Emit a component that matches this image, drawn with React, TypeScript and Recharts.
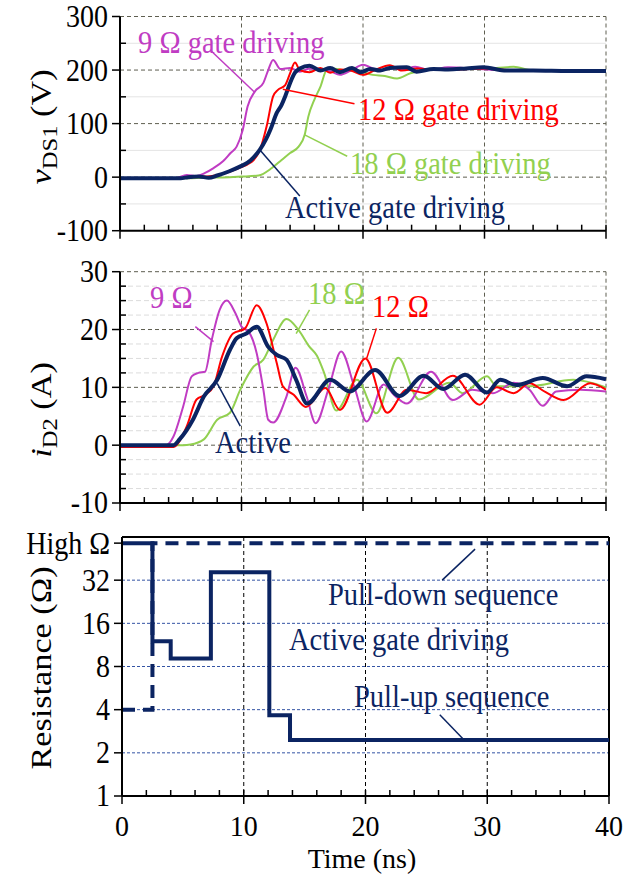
import React from 'react'
import { LineChart, Line, XAxis, YAxis, CartesianGrid, ReferenceLine } from 'recharts'

const FONT = '"Liberation Serif", "Times New Roman", serif'
const NAVY = '#0b2462'
const MAGENTA = '#c03cc3'
const RED = '#ff0000'
const GREEN = '#92d050'
const GRID = '#5e5e50'

// shared time axis (ns)
const TIME_TICKS = [0, 2, 4, 6, 8, 10, 12, 14, 16, 18, 20, 22, 24, 26, 28, 30, 32, 34, 36, 38, 40]
const TIME_GRID = [10, 20, 30, 40]

// panel 1: vDS1 (V)
const V_TICKS = [-100, -50, 0, 50, 100, 150, 200, 250, 300]
const V_GRID = [0, 100, 200, 300]
const V_MINOR = [-50, 50, 150, 250]

const T_V9 = [0, 4.5, 5.5, 6.3, 7.0, 7.7, 8.5, 9.1, 9.6, 10.1, 10.5, 11.1, 11.8, 12.2, 12.6, 13.2, 14.0, 14.8, 15.6, 16.5, 17.3, 18.1, 19.0, 20.0, 20.8, 21.6, 22.4, 23.3, 24.3, 25.5, 27.0, 29.0, 31.0, 33.0, 36.0, 40.0]
const V9 = [-2, -2, 4, 2, 8, 17, 30, 45, 57, 88, 132, 160, 176, 200, 219, 202, 204, 197, 203, 201, 198, 191, 199, 210, 203, 200, 204, 201, 206, 200, 205, 203, 200, 199, 199, 198]

const T_V12 = [0, 5.0, 6.0, 7.0, 8.0, 9.0, 10.0, 10.5, 11.0, 11.5, 12.07, 12.6, 13.0, 13.6, 14.0, 14.4, 14.8, 15.6, 16.5, 17.3, 18.1, 19.0, 20.0, 21.0, 22.2, 23.2, 24.5, 26.0, 28.0, 30.0, 32.0, 35.0, 40.0]
const V12 = [-2, -2, 2, 1, 4, 10, 19, 24, 32, 50, 95, 151, 163, 172, 194, 214, 200, 196, 204, 195, 201, 199, 191, 200, 209, 199, 203, 200, 201, 203, 200, 200, 198]

const T_V18 = [0, 5, 7, 9, 10, 11.4, 12.5, 13.3, 14.0, 14.7, 15.2, 15.5, 16.0, 16.5, 17.0, 17.5, 18.3, 19.8, 20.8, 21.8, 22.8, 23.9, 25.2, 27, 29, 31, 32.4, 33.9, 36, 40]
const V18 = [-2, -2, -1, 0, 1, 3, 17, 32, 45, 57, 79, 113, 145, 169, 200, 203, 200, 197, 191, 189, 184, 194, 200, 202, 203, 204, 206, 200, 200, 198]

const T_VA = [0, 5.0, 5.6, 6.5, 7.3, 8.0, 9.0, 10.0, 10.5, 11.0, 11.5, 12.0, 12.4, 12.9, 13.3, 13.6, 14.0, 14.4, 14.8, 15.6, 16.5, 17.3, 18.1, 19.1, 19.8, 20.6, 21.4, 22.2, 23.6, 24.4, 25.8, 27.0, 28.5, 29.9, 31.8, 34, 37, 40]
const VA = [-2, -2, 0, 1, -1, 3, 11, 21, 27, 37, 51, 70, 90, 120, 135, 151, 176, 195, 203, 208, 199, 204, 196, 204, 196, 202, 199, 204, 205, 197, 202, 201, 203, 205, 199, 199, 198, 198]

// panel 2: iD2 (A)
const I_TICKS = [-10, -7.5, -5, -2.5, 0, 2.5, 5, 7.5, 10, 12.5, 15, 17.5, 20, 22.5, 25, 27.5, 30]
const I_GRID = [0, 10, 20, 30]
const I_MINOR = [-7.5, -5, -2.5, 2.5, 5, 7.5, 12.5, 15, 17.5, 22.5, 25, 27.5]

const T_I9 = [0, 3.8, 4.4, 5.2, 5.9, 6.45, 7.0, 7.55, 8.2, 8.8, 9.5, 10.0, 10.6, 11.25, 11.8, 12.2, 12.6, 13.7, 14.45, 15.35, 16.1, 17.2, 18.2, 19.3, 20.3, 21.7, 22.6, 23.6, 25.6, 27.4, 29.0, 30.7, 32.4, 33.7, 34.8, 35.9, 37.9, 40]
const I9 = [0, 0, 1.5, 6.7, 11.9, 12.5, 12.7, 18.2, 23.4, 25, 22.8, 20.5, 19.6, 15.9, 9.6, 4.4, 3.9, 8.4, 13.4, 8.5, 3.8, 10, 16.2, 10, 4.1, 10.5, 8.6, 7.2, 12.7, 7.8, 9.6, 9.0, 10.8, 9.6, 6.8, 9.3, 9.6, 9.3]

const T_I12 = [0, 4.4, 5.5, 6.3, 7.0, 7.7, 8.4, 9.3, 10.3, 11.25, 12.07, 12.9, 13.4, 14.3, 15.3, 16.9, 18.1, 20.2, 22.0, 23.6, 25.2, 27.4, 29.6, 31.0, 32.4, 33.7, 35.0, 36.5, 38.7, 40]
const I12 = [-0.3, -0.3, 3.3, 7.9, 8.7, 10.2, 15.3, 19.3, 20.2, 24.2, 21, 14.2, 10.2, 8.7, 6.6, 9.9, 6.1, 15, 5.6, 9.6, 9.0, 12.0, 7.0, 10.0, 9.0, 10.7, 9.2, 7.8, 10.7, 9.6]

const T_I18 = [0, 5.2, 5.8, 6.9, 8.0, 9.05, 9.9, 11.0, 11.8, 12.6, 13.7, 14.7, 15.6, 16.2, 16.8, 17.8, 19.5, 21.1, 22.9, 24.6, 27.1, 28.2, 30.2, 31.0, 33.7, 37.3, 40]
const I18 = [0, 0, 0.1, 1, 4.4, 5.6, 9.6, 13.6, 14.8, 18.2, 21.8, 19.9, 17, 15.5, 12.5, 6, 11.3, 5.5, 15.1, 7.9, 10.8, 9, 11.9, 10.2, 10.2, 11.3, 10]

const T_IA = [0, 4.4, 4.9, 6.0, 6.9, 8.0, 9.05, 9.6, 10.4, 11.25, 12.2, 12.9, 13.7, 14.5, 15.4, 17.3, 18.9, 21.0, 23.0, 25.0, 26.6, 28.4, 30.2, 31.3, 32.6, 34.8, 36.8, 38.4, 40]
const IA = [0, 0, 1, 4.4, 8.4, 11.3, 16.5, 18.5, 19.3, 20.5, 17, 15.6, 14.8, 11.3, 7.2, 11.3, 9.3, 13, 8.5, 12, 9.7, 12.2, 9.1, 11.3, 10.4, 11.6, 10.2, 11.9, 11.4]

// panel 3: gate resistance (log scale, "High" drawn as ~58 Ω)
const HIGH = 58
const R_TICKS = [1, 2, 4, 8, 16, 32, HIGH]
const R_GRID = [2, 4, 8, 16, 32]
const T_PULL_UP = [0, 2.5, 4.0, 7.3, 12.1, 13.8, 40]
const R_PULL_UP = [HIGH, 12, 9.1, 36.4, 3.65, 2.46, 2.46]
const T_PULL_DOWN = [0, 2.5, 40]
const R_PULL_DOWN = [4, HIGH, HIGH]

const zip = (t: number[], v: number[]) => t.map((x, i) => ({ t: x, v: v[i] }))

const TICK_FONT = 28

const timeTick = (labels: boolean) => (p: any) => {
  const v = p.payload.value
  const major = v % 10 === 0
  return (
    <g>
      <line x1={p.x} x2={p.x} y1={p.y - 6} y2={p.y + (major ? 8 : 0)} stroke="#000" strokeWidth={1.5} />
      {labels && major && (
        <text transform={`translate(${p.x},${p.y + 30}) scale(1,1.08)`} textAnchor="middle" dominantBaseline="central" fontSize={TICK_FONT} fontFamily={FONT} fill="#000">{v}</text>
      )}
    </g>
  )
}

const valueTick = (step: number, fmt?: (v: number) => string) => (p: any) => {
  const v = p.payload.value
  const major = Math.abs(v % step) < 1e-9
  return (
    <g>
      {major
        ? <line x1={p.x - 8} x2={p.x} y1={p.y} y2={p.y} stroke="#000" strokeWidth={1.5} />
        : <line x1={p.x} x2={p.x + 6} y1={p.y} y2={p.y} stroke="#000" strokeWidth={1.5} />}
      {major && (
        <text transform={`translate(${p.x - 12},${p.y}) scale(1,1.1)`} textAnchor="end" dominantBaseline="central" fontSize={TICK_FONT} fontFamily={FONT} fill="#000">{fmt ? fmt(v) : v}</text>
      )}
    </g>
  )
}

function Note({ x, y, color, children }: any) {
  return (
    <div style={{ position: 'absolute', left: x, top: y, transform: 'translateY(-50%) scaleY(1.1)', color, fontSize: 28.5, fontFamily: FONT, lineHeight: 1, whiteSpace: 'nowrap' }}>
      {children}
    </div>
  )
}

function Title({ x, y, children }: any) {
  return (
    <div style={{ position: 'absolute', left: x, top: y, transform: 'translate(-50%, -50%) rotate(-90deg) scaleX(1.18)', fontSize: 29, fontFamily: FONT, lineHeight: 1, whiteSpace: 'nowrap', color: '#000' }}>
      {children}
    </div>
  )
}

const axisLine = { stroke: '#000', strokeWidth: 2 }

export default function App() {
  return (
    <div style={{ position: 'absolute', left: 0, top: 0, width: 640, height: 874, background: '#fff', overflow: 'hidden' }}>
      {/* panel 1 */}
      <div style={{ position: 'absolute', left: 0, top: 0 }}>
        <LineChart width={640} height={250} margin={{ top: 16.5, right: 34, left: 0, bottom: 0 }}>
          <CartesianGrid horizontalValues={V_MINOR} vertical={false} stroke="#e4e4e4" strokeWidth={1} />
          <CartesianGrid horizontalValues={V_GRID} verticalValues={TIME_GRID} stroke={GRID} strokeDasharray="4 3" strokeWidth={1} />
          <XAxis dataKey="t" type="number" domain={[0, 40]} ticks={TIME_TICKS} interval={0} height={19.3} tickSize={0} tickMargin={0} axisLine={axisLine} tick={timeTick(false)} allowDuplicatedCategory={false} />
          <YAxis type="number" domain={[-100, 300]} ticks={V_TICKS} interval={0} width={120} tickSize={0} tickMargin={0} axisLine={axisLine} tick={valueTick(100)} />
          <Line data={zip(T_V18, V18)} dataKey="v" type="monotone" stroke={GREEN} strokeWidth={2} dot={false} activeDot={false} isAnimationActive={false} />
          <Line data={zip(T_V9, V9)} dataKey="v" type="monotone" stroke={MAGENTA} strokeWidth={2} dot={false} activeDot={false} isAnimationActive={false} />
          <Line data={zip(T_V12, V12)} dataKey="v" type="monotone" stroke={RED} strokeWidth={2} dot={false} activeDot={false} isAnimationActive={false} />
          <Line data={zip(T_VA, VA)} dataKey="v" type="monotone" stroke={NAVY} strokeWidth={4} dot={false} activeDot={false} isAnimationActive={false} />
          <ReferenceLine segment={[{ x: 7.4, y: 238 }, { x: 11.1, y: 158 }]} stroke={MAGENTA} strokeWidth={1.5} />
          <ReferenceLine segment={[{ x: 13.4, y: 164 }, { x: 19.3, y: 137 }]} stroke={RED} strokeWidth={1.5} />
          <ReferenceLine segment={[{ x: 15.2, y: 79 }, { x: 18.7, y: 39 }]} stroke={GREEN} strokeWidth={1.5} />
          <ReferenceLine segment={[{ x: 11.5, y: 51 }, { x: 14.8, y: -35 }]} stroke={NAVY} strokeWidth={1.5} />
        </LineChart>
      </div>

      {/* panel 2 */}
      <div style={{ position: 'absolute', left: 0, top: 250 }}>
        <LineChart width={640} height={270} margin={{ top: 21.7, right: 34, left: 0, bottom: 0 }}>
          <CartesianGrid horizontalValues={I_MINOR} vertical={false} stroke="#dcdcdc" strokeDasharray="5 3" strokeWidth={1} />
          <CartesianGrid horizontalValues={I_GRID} verticalValues={TIME_GRID} stroke={GRID} strokeDasharray="4 3" strokeWidth={1} />
          <XAxis dataKey="t" type="number" domain={[0, 40]} ticks={TIME_TICKS} interval={0} height={17} tickSize={0} tickMargin={0} axisLine={axisLine} tick={timeTick(false)} allowDuplicatedCategory={false} />
          <YAxis type="number" domain={[-10, 30]} ticks={I_TICKS} interval={0} width={120} tickSize={0} tickMargin={0} axisLine={axisLine} tick={valueTick(10)} />
          <Line data={zip(T_I18, I18)} dataKey="v" type="monotone" stroke={GREEN} strokeWidth={2} dot={false} activeDot={false} isAnimationActive={false} />
          <Line data={zip(T_I9, I9)} dataKey="v" type="monotone" stroke={MAGENTA} strokeWidth={2} dot={false} activeDot={false} isAnimationActive={false} />
          <Line data={zip(T_I12, I12)} dataKey="v" type="monotone" stroke={RED} strokeWidth={2} dot={false} activeDot={false} isAnimationActive={false} />
          <Line data={zip(T_IA, IA)} dataKey="v" type="monotone" stroke={NAVY} strokeWidth={4} dot={false} activeDot={false} isAnimationActive={false} />
          <ReferenceLine segment={[{ x: 6.2, y: 20.5 }, { x: 7.7, y: 17.9 }]} stroke={MAGENTA} strokeWidth={1.5} />
          <ReferenceLine segment={[{ x: 15.6, y: 23.4 }, { x: 14.5, y: 19.3 }]} stroke={GREEN} strokeWidth={1.5} />
          <ReferenceLine segment={[{ x: 21.1, y: 20.2 }, { x: 20.3, y: 15 }]} stroke={RED} strokeWidth={1.5} />
          <ReferenceLine segment={[{ x: 8.0, y: 10.7 }, { x: 9.9, y: 3.3 }]} stroke={NAVY} strokeWidth={1.5} />
        </LineChart>
      </div>

      {/* panel 3 */}
      <div style={{ position: 'absolute', left: 0, top: 520 }}>
        <LineChart width={640} height={354} margin={{ top: 17, right: 31, left: 0, bottom: 0 }}>
          <CartesianGrid horizontalValues={R_GRID} vertical={false} stroke="#3454a4" strokeDasharray="3 2" strokeWidth={1} />
          <CartesianGrid horizontal={false} verticalValues={[10, 20, 30]} stroke="#000" strokeDasharray="4 3" strokeWidth={1} />
          <XAxis dataKey="t" type="number" domain={[0, 40]} ticks={TIME_TICKS} interval={0} height={78} tickSize={0} tickMargin={0} axisLine={axisLine} tick={timeTick(true)} allowDuplicatedCategory={false} />
          <YAxis type="number" scale="log" domain={[1, 64]} ticks={R_TICKS} interval={0} width={122} tickSize={0} tickMargin={0} axisLine={axisLine} tick={valueTick(1, (v) => (v === HIGH ? 'High Ω' : String(v)))} />
          <ReferenceLine y={64} stroke="#000" strokeWidth={2} />
          <ReferenceLine x={40} stroke="#000" strokeWidth={2} />
          <Line data={zip(T_PULL_DOWN, R_PULL_DOWN)} dataKey="v" type="stepAfter" stroke={NAVY} strokeWidth={4} strokeDasharray="13 8" dot={false} activeDot={false} isAnimationActive={false} />
          <Line data={zip(T_PULL_UP, R_PULL_UP)} dataKey="v" type="stepAfter" stroke={NAVY} strokeWidth={4} dot={false} activeDot={false} isAnimationActive={false} />
          <ReferenceLine segment={[{ x: 29, y: 52.7 }, { x: 26.3, y: 32 }]} stroke={NAVY} strokeWidth={1.5} />
          <ReferenceLine segment={[{ x: 26.1, y: 3.69 }, { x: 28.1, y: 2.46 }]} stroke={NAVY} strokeWidth={1.5} />
        </LineChart>
      </div>

      {/* annotations */}
      <Note x={138} y={43} color={MAGENTA}>9 Ω gate driving</Note>
      <Note x={358} y={110} color={RED}>12 Ω gate driving</Note>
      <Note x={350} y={164} color={GREEN}>18 Ω gate driving</Note>
      <Note x={285} y={208} color={NAVY}>Active gate driving</Note>
      <Note x={150} y={298} color={MAGENTA}>9 Ω</Note>
      <Note x={308} y={294} color={GREEN}>18 Ω</Note>
      <Note x={372} y={307} color={RED}>12 Ω</Note>
      <Note x={215} y={443} color={NAVY}>Active</Note>
      <Note x={328} y={595} color={NAVY}>Pull-down sequence</Note>
      <Note x={289} y={640} color={NAVY}>Active gate driving</Note>
      <Note x={354} y={697} color={NAVY}>Pull-up sequence</Note>

      <Title x={44} y={127}><span style={{ fontStyle: 'italic' }}>v</span><sub style={{ fontSize: '0.72em' }}>DS1</sub> (V)</Title>
      <Title x={44} y={410}><span style={{ fontStyle: 'italic' }}>i</span><sub style={{ fontSize: '0.72em' }}>D2</sub> (A)</Title>
      <Title x={41} y={668}>Resistance (Ω)</Title>
      <div style={{ position: 'absolute', left: 362, top: 859, transform: 'translate(-50%, -50%)', fontSize: 28, fontFamily: FONT, lineHeight: 1, whiteSpace: 'nowrap' }}>Time (ns)</div>
    </div>
  )
}
